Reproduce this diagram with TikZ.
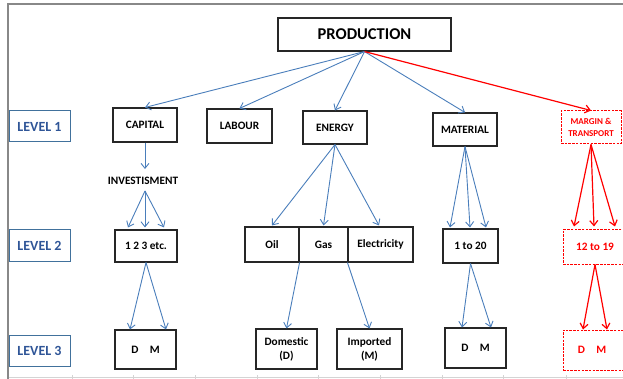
\documentclass[tikz,border=0pt]{standalone}
\usepackage{fontspec}
\setmainfont{Carlito}
\usetikzlibrary{arrows.meta}
\definecolor{arrblue}{RGB}{74,126,187}
\definecolor{lvlblue}{RGB}{47,85,151}
\definecolor{lvlborder}{RGB}{65,113,156}
\definecolor{framegray}{RGB}{136,136,136}
\definecolor{gridgray}{RGB}{212,212,212}
\begin{document}
\begin{tikzpicture}[x=1pt,y=-1pt,
  sz/.style 2 args={minimum width=#1pt,minimum height=#2pt},
  box/.style={draw=black!85,line width=1.1pt,inner sep=0pt,align=center,
    font=\fontsize{11.3}{14}\selectfont\bfseries},
  redbox/.style={draw=red,line width=1pt,dash pattern=on 2.5pt off 1.2pt,inner sep=0pt,
    align=center,text=red,font=\fontsize{11.3}{14}\selectfont\bfseries},
  lvl/.style={draw=lvlborder,line width=1pt,minimum width=61pt,minimum height=31pt,
    inner sep=0pt,text=lvlblue,font=\fontsize{14}{16}\selectfont\bfseries},
  plain/.style={inner sep=0pt,font=\fontsize{11.3}{14}\selectfont\bfseries},
  barr/.style={draw=arrblue,line width=0.9pt,-{Straight Barb[length=5pt,width=8pt]}},
  rarr/.style={draw=red,line width=1.2pt,-{Straight Barb[length=5pt,width=8pt]}}
]
\useasboundingbox (0,0) rectangle (623,379);
% frame
\draw[gridgray,line width=0.8pt] (8,377.5) -- (623,377.5);
\foreach \gx in {72,133,195,257,318,380,442,503,566}
  \draw[gridgray,line width=0.6pt] (\gx,375) -- (\gx,379);
\draw[framegray,line width=1.8pt] (8,379) -- (8,4) -- (623,4);

% level labels
\node[lvl] (l1) at (39.5,126.5) {LEVEL 1};
\node[lvl] (l2) at (39.5,245.5) {LEVEL 2};
\node[lvl] (l3) at (39.5,350.5) {LEVEL 3};

% top
\node[box,sz={173}{33},font=\fontsize{16.5}{18}\selectfont\bfseries] (prod) at (364.5,34.5) {PRODUCTION};

% level 1
\node[box,sz={64}{34}] (cap) at (145,125) {CAPITAL};
\node[box,sz={65}{34}] (lab) at (239.5,126) {LABOUR};
\node[box,sz={64}{33}] (ene) at (335,127.5) {ENERGY};
\node[box,sz={64}{33}] (mat) at (465,129.5) {MATERIAL};
\node[redbox,sz={60}{33},font=\fontsize{9}{12}\selectfont\bfseries] (mar) at (591,127.5) {MARGIN \&\\TRANSPORT};

\node[plain] (inv) at (143,181) {INVESTISMENT};

% level 2
\node[box,sz={62}{32}] (n123) at (146,246) {1 2 3 etc.};
\node[box,sz={54}{35}] (oil) at (272,244.5) {Oil};
\node[box,sz={49}{35}] (gas) at (323.5,244.5) {Gas};
\node[box,sz={65}{35}] (ele) at (380.5,244.5) {Electricity};
\node[box,sz={55}{34}] (m20) at (470.5,246) {1 to 20};
\node[redbox,sz={64}{34}] (m19) at (595,247) {12 to 19};

% level 3
\node[box,sz={61}{39}] (dm1) at (145.5,349.5) {D\hspace{1em}M};
\node[box,sz={61}{40}] (dom) at (286.5,349) {Domestic\\(D)};
\node[box,sz={65}{40}] (imp) at (369.5,349) {Imported\\(M)};
\node[box,sz={61}{40}] (dm2) at (475.5,348) {D\hspace{1em}M};
\node[redbox,sz={64}{40}] (dm3) at (595,350) {\hspace{-6pt}D\hspace{1em}M};

% arrows from production
\draw[barr] (prod.south) -- (cap.north);
\draw[barr] (prod.south) -- (lab.north);
\draw[barr] (prod.south) -- (ene.north);
\draw[barr] (prod.south) -- (mat.north);
\draw[rarr] (prod.south) -- (mar.north);

% capital branch
\draw[barr] (cap.south) -- ([xshift=2pt,yshift=8pt]inv.north);
\draw[barr] ([xshift=2pt,yshift=-6pt]inv.south) -- ([xshift=-18pt,yshift=2pt]n123.north);
\draw[barr] ([xshift=2pt,yshift=-6pt]inv.south) -- ([xshift=-1pt,yshift=2pt]n123.north);
\draw[barr] ([xshift=2pt,yshift=-6pt]inv.south) -- ([xshift=18pt,yshift=2pt]n123.north);
\draw[barr] (n123.south) -- ([xshift=-15.5pt]dm1.north);
\draw[barr] (n123.south) -- ([xshift=20.5pt]dm1.north);

% energy branch
\draw[barr] (ene.south) -- ([yshift=1pt]oil.north);
\draw[barr] (ene.south) -- ([yshift=1pt]gas.north);
\draw[barr] (ene.south) -- ([xshift=-1.5pt,yshift=1pt]ele.north);
\draw[barr] (oil.south east) -- (dom.north);
\draw[barr] (ele.south west) -- (imp.north);

% material branch
\draw[barr] (mat.south) -- ([xshift=-20.5pt,yshift=1pt]m20.north);
\draw[barr] (mat.south) -- ([xshift=-0.5pt,yshift=1pt]m20.north);
\draw[barr] (mat.south) -- ([xshift=15.5pt,yshift=1pt]m20.north);
\draw[barr] (m20.south) -- ([xshift=-13.5pt]dm2.north);
\draw[barr] (m20.south) -- ([xshift=15.5pt]dm2.north);

% margin branch
\draw[rarr] (mar.south) -- ([xshift=-21pt,yshift=3pt]m19.north);
\draw[rarr] (mar.south) -- ([xshift=-1pt,yshift=3pt]m19.north);
\draw[rarr] (mar.south) -- ([xshift=20pt,yshift=3pt]m19.north);
\draw[rarr] (m19.south) -- ([xshift=-12pt]dm3.north);
\draw[rarr] (m19.south) -- ([xshift=12pt]dm3.north);
\end{tikzpicture}
\end{document}
